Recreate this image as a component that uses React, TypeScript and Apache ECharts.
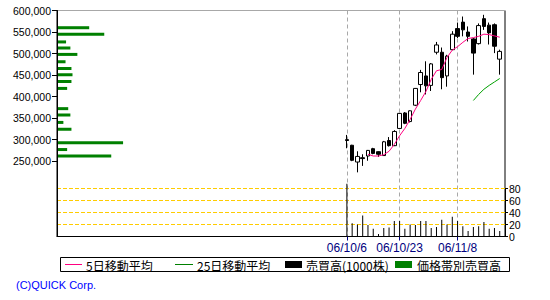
import React, { useEffect, useRef } from 'react';
import * as echarts from 'echarts';

// ---- data ----
const dates = [
  '06/10/6', '06/10/10', '06/10/11', '06/10/12', '06/10/13', '06/10/16', '06/10/17', '06/10/18',
  '06/10/19', '06/10/20', '06/10/23', '06/10/24', '06/10/25', '06/10/26', '06/10/27', '06/10/30',
  '06/10/31', '06/11/1', '06/11/2', '06/11/6', '06/11/7', '06/11/8', '06/11/9', '06/11/10',
  '06/11/13', '06/11/14', '06/11/15', '06/11/16', '06/11/17', '06/11/20',
];
const opens = [300000, 287000, 248000, 258000, 262000, 279000, 272000, 263000, 298000, 286000, 326000, 362000, 342000, 380000, 428000, 448000, 426000, 503000, 503000, 448000, 509000, 558000, 573000, 550000, 534000, 523000, 581000, 566000, 567000, 487000];
const closes = [298000, 252000, 261000, 256000, 275000, 268000, 266000, 295000, 286000, 319000, 361000, 338000, 367000, 419000, 456000, 425000, 476000, 520000, 444000, 494000, 545000, 540000, 555000, 540000, 501000, 565000, 563000, 548000, 517000, 505000];
const lows = [280000, 250000, 224000, 239000, 251000, 266000, 260000, 262000, 284000, 285000, 325000, 336000, 340000, 378000, 410000, 405000, 413000, 498000, 417000, 423000, 508000, 536000, 540000, 528000, 451000, 521000, 555000, 521000, 501000, 451000];
const highs = [311000, 288000, 273000, 266000, 276000, 281000, 273000, 297000, 306000, 322000, 362000, 364000, 368000, 420000, 462000, 482000, 478000, 527000, 514000, 497000, 552000, 572000, 586000, 563000, 536000, 570000, 590000, 572000, 570000, 509000];
const volumes = [88, 22, 20, 35, 19, 13, 4, 14, 15, 26, 26, 13, 20, 19, 26, 26, 14, 16, 28, 20, 33, 26, 17, 9, 16, 17, 24, 13, 14, 9];
// 5-day MA from the 5th session, 25-day MA from the 25th session
const ma5 = [266000, 262000, 262000, 265000, 273000, 289000, 309000, 326000, 347000, 371000, 391000, 412000, 440000, 460000, 463000, 491000, 508000, 516000, 526000, 535000, 537000, 540000, 545000, 544000, 541000, 538000];
const ma25 = [391000, 405000, 417000, 426000, 434000, 442000];
// price-band volume (thousand shares)
const bandPrices = [560000, 545000, 527000, 513000, 498000, 481000, 465000, 451000, 435000, 419000, 372000, 357000, 340000, 324000, 293000, 277000, 262000];
const bandVolumes = [58, 86, 15, 23, 36, 14, 25, 27, 25, 17, 19, 23, 10, 25, 121, 17, 99];
const bandAxisMax = 833;
const dateTickLabels = ['06/10/6', '06/10/23', '06/11/8'];
const priceTickValues = [250000, 300000, 350000, 400000, 450000, 500000, 550000, 600000];
const priceGridValues = [250000, 300000, 350000, 400000, 450000, 500000, 550000];
const EMPTY_BEFORE = 55;
const EMPTY_AFTER = 1;

const PRICE_MIN = 75000;
const PRICE_MAX = 600000;
const PRICE_STEP = 25000;
const VOL_MAX = 80;
const VOL_STEP = 20;

export default function App() {
  const ref = useRef<HTMLDivElement>(null);

  useEffect(() => {
    if (!ref.current) return;
    const chart = echarts.init(ref.current, undefined, { renderer: 'svg' });

    const categories = [
      ...Array.from({ length: EMPTY_BEFORE }, (_, i) => `_b${i}`),
      ...dates,
      ...Array.from({ length: EMPTY_AFTER }, (_, i) => `_a${i}`),
    ];
    const pad = (arr: any[], offset: number) => {
      const out: any[] = categories.map(() => '-');
      arr.forEach((v, i) => { out[EMPTY_BEFORE + offset + i] = v; });
      return out;
    };
    const candleData = pad(dates.map((_, i) => [opens[i], closes[i], lows[i], highs[i]]), 0);
    const volData = pad(volumes, 0);
    const ma5Data = pad(ma5, 4);
    const ma25Data = pad(ma25, 24);
    const bandData = bandPrices.map((p, i) => [bandVolumes[i], p]);

    const isDateTick = (_: number, v: string) => dateTickLabels.includes(v);

    const gridColors: string[] = [];
    for (let v = PRICE_MIN; v <= PRICE_MAX; v += PRICE_STEP) {
      gridColors.push(priceGridValues.includes(v) ? '#a8a8a8' : 'rgba(0,0,0,0)');
    }

    const numFont = '"Liberation Sans", Arial, sans-serif';
    const jpFont = '"Noto Sans CJK JP", sans-serif';

    chart.setOption({
      animation: false,
      backgroundColor: '#ffffff',
      grid: [
        {
          left: 57, right: 45, top: 10.5, height: 226,
          show: true, borderColor: '#000', borderWidth: 1, backgroundColor: 'transparent',
        },
        { left: 57, right: 45, top: 188.5, height: 48, show: false },
      ],
      xAxis: [
        {
          type: 'category', gridIndex: 0, data: categories, boundaryGap: false, position: 'bottom',
          axisLine: { show: true, lineStyle: { color: '#000', width: 1 } },
          axisTick: { show: true, interval: isDateTick, length: 4, lineStyle: { color: '#000080' } },
          axisLabel: {
            show: true, interval: isDateTick, color: '#000080', fontSize: 12, margin: 5,
            fontFamily: numFont,
          },
          splitLine: { show: true, interval: isDateTick, lineStyle: { color: '#a8a8a8', type: [4, 3], width: 1 } },
        },
        { type: 'value', gridIndex: 0, min: 0, max: bandAxisMax, show: false },
        {
          type: 'category', gridIndex: 1, data: categories, boundaryGap: false, position: 'bottom',
          axisLine: { show: false }, axisTick: { show: false }, axisLabel: { show: false }, splitLine: { show: false },
        },
      ],
      yAxis: [
        {
          type: 'value', gridIndex: 0, min: PRICE_MIN, max: PRICE_MAX, interval: PRICE_STEP, position: 'left',
          axisLine: { show: true, lineStyle: { color: '#000', width: 1 } },
          axisTick: { show: true, length: 5, customValues: priceTickValues, lineStyle: { color: '#000' } },
          axisLabel: {
            show: true, customValues: priceTickValues, margin: 6, color: '#000', fontSize: 10.5,
            fontFamily: numFont,
            formatter: (v: number) => v.toString().replace(/\B(?=(\d{3})+(?!\d))/g, ','),
          },
          splitLine: { show: true, lineStyle: { color: gridColors, width: 1 } },
        },
        {
          type: 'value', gridIndex: 1, min: 0, max: VOL_MAX, interval: VOL_STEP, position: 'right',
          axisLine: { show: true, lineStyle: { color: '#000', width: 1 } },
          axisTick: { show: true, length: 3, lineStyle: { color: '#000' } },
          axisLabel: { show: true, margin: 4, color: '#000', fontSize: 10.5, fontFamily: numFont },
          splitLine: { show: true, lineStyle: { color: '#ffcc00', type: [4, 2], width: 1 } },
        },
      ],
      series: [
        {
          type: 'custom', xAxisIndex: 1, yAxisIndex: 0, data: bandData, encode: { x: 0, y: 1 },
          renderItem: (_params: any, api: any) => {
            const vol = api.value(0);
            const price = api.value(1);
            const s = api.coord([0, price]);
            const e = api.coord([vol, price]);
            return {
              type: 'rect',
              shape: { x: s[0] + 1, y: s[1] - 1.5, width: e[0] - s[0], height: 3 },
              style: { fill: '#008000' },
            };
          },
          z: 1,
        },
        {
          type: 'bar', xAxisIndex: 2, yAxisIndex: 1, data: volData, barWidth: 1, clip: false,
          itemStyle: { color: '#000' }, z: 2,
        },
        {
          type: 'candlestick', xAxisIndex: 0, yAxisIndex: 0, data: candleData, barWidth: 4,
          itemStyle: { color: '#ffffff', color0: '#000000', borderColor: '#000000', borderColor0: '#000000', borderWidth: 1 },
          z: 3,
        },
        {
          type: 'line', xAxisIndex: 0, yAxisIndex: 0, data: ma5Data, showSymbol: false, symbol: 'none',
          lineStyle: { color: '#ff0080', width: 1 }, z: 4,
        },
        {
          type: 'line', xAxisIndex: 0, yAxisIndex: 0, data: ma25Data, showSymbol: false, symbol: 'none',
          lineStyle: { color: '#00a000', width: 1 }, z: 4,
        },
      ],
      graphic: [
        { type: 'rect', shape: { x: 60.5, y: 257.5, width: 449, height: 14 }, style: { fill: '#fff', stroke: '#000', lineWidth: 1 } },
        { type: 'line', shape: { x1: 65, y1: 264.5, x2: 82, y2: 264.5 }, style: { stroke: '#ff0080', lineWidth: 1 } },
        { type: 'text', x: 86, y: 265, style: { text: '5日移動平均', font: `12px ${jpFont}`, fill: '#000', verticalAlign: 'middle' } },
        { type: 'line', shape: { x1: 175, y1: 264.5, x2: 193, y2: 264.5 }, style: { stroke: '#008000', lineWidth: 1 } },
        { type: 'text', x: 197, y: 265, style: { text: '25日移動平均', font: `12px ${jpFont}`, fill: '#000', verticalAlign: 'middle' } },
        { type: 'rect', shape: { x: 285, y: 261, width: 17, height: 7 }, style: { fill: '#000' } },
        { type: 'text', x: 306, y: 265, style: { text: '売買高(1000株)', font: `12px ${jpFont}`, fill: '#000', verticalAlign: 'middle' } },
        { type: 'rect', shape: { x: 395, y: 261, width: 17, height: 7 }, style: { fill: '#008000' } },
        { type: 'text', x: 417, y: 265, style: { text: '価格帯別売買高', font: `12px ${jpFont}`, fill: '#000', verticalAlign: 'middle' } },
        { type: 'text', x: 16, y: 285, style: { text: '(C)QUICK Corp.', font: `11px ${numFont}`, fill: '#0000ff', verticalAlign: 'middle' } },
      ],
    });

    return () => chart.dispose();
  }, []);

  return (
    <div
      ref={ref}
      style={{ position: 'fixed', left: 0, top: 0, width: 550, height: 300, background: '#fff' }}
    />
  );
}
